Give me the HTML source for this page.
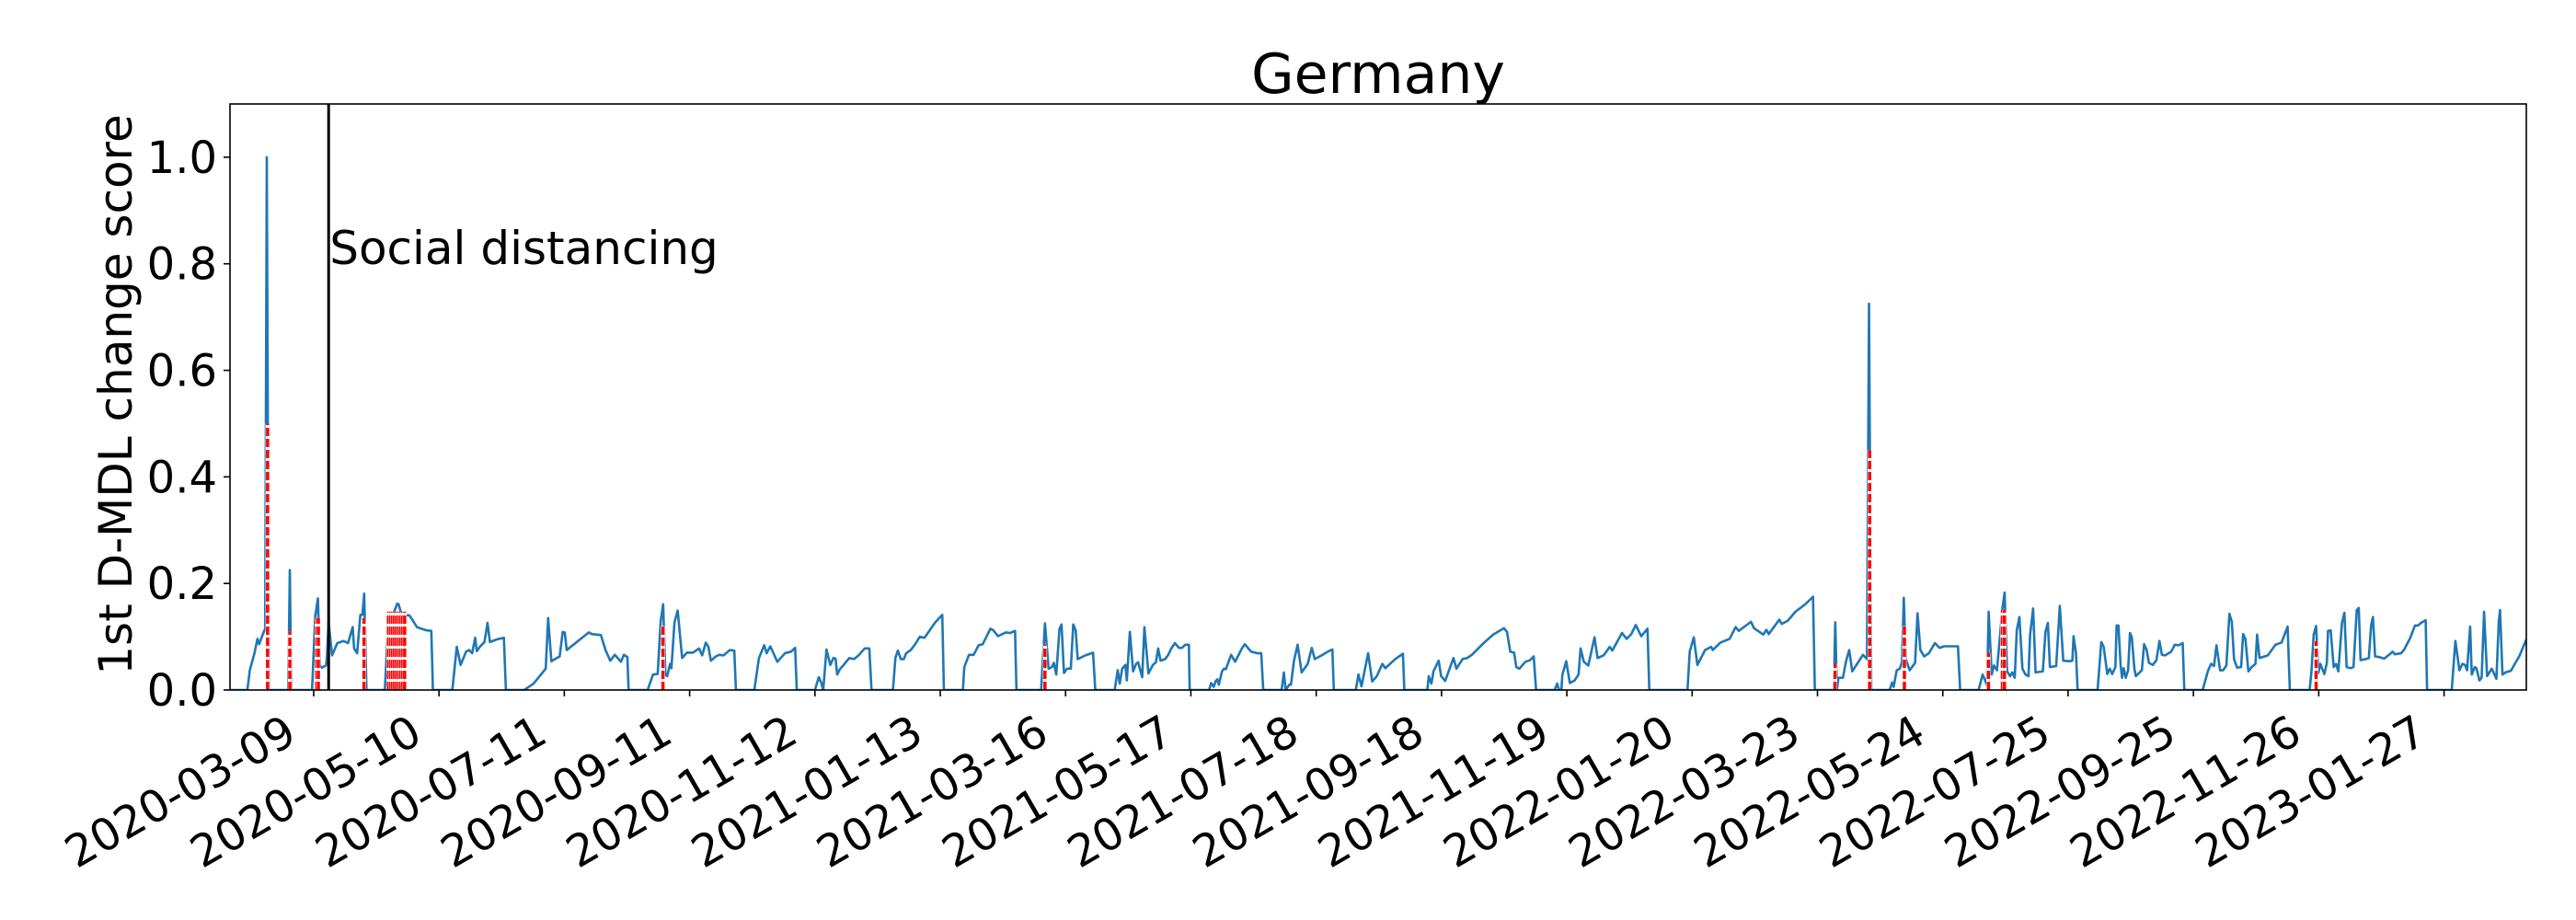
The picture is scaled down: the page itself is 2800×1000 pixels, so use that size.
<!DOCTYPE html>
<html>
<head>
<meta charset="utf-8">
<style>
  html, body { margin: 0; padding: 0; background: #fff; }
  svg { display: block; font-family: "DejaVu Sans", "Liberation Sans", sans-serif; }
</style>
</head>
<body>
<svg id="chart" width="2800" height="1000" viewBox="0 0 2800 1000" xmlns="http://www.w3.org/2000/svg">
  <rect x="0" y="0" width="2800" height="1000" fill="#fff"/>
  <text x="1498" y="101" font-size="60" text-anchor="middle" fill="#000">Germany</text>
  <text transform="translate(143,429) rotate(-90)" font-size="50" text-anchor="middle" fill="#000">1st D-MDL change score</text>
  <g id="plot"></g>
</svg>
<script>
// Days relative to 2020-03-09
const tickLabels = ["2020-03-09","2020-05-10","2020-07-11","2020-09-11","2020-11-12","2021-01-13","2021-03-16","2021-05-17","2021-07-18","2021-09-18","2021-11-19","2022-01-20","2022-03-23","2022-05-24","2022-07-25","2022-09-25","2022-11-26","2023-01-27"];
const tickDays = [0,62,124,186,248,310,372,434,496,558,620,682,744,806,868,930,992,1054];
const yTicks = [0.0,0.2,0.4,0.6,0.8,1.0];
const yTickLabels = ["0.0","0.2","0.4","0.6","0.8","1.0"];
const xDomain = [-41.4, 1094.7];
const yDomain = [0, 1.1];
const eventDay = 7.4;
const eventLabel = "Social distancing";
const changeDays = [-22.8,-11.8,1.5,2.3,24.9,37,38,39,40,41,42,43,44,45,172.8,361.8,752.7,769.8,787,828.6,835.5,836.5,990.7];
const changeHeights = [0.5,0.11,0.135,0.135,0.135,0.147,0.147,0.147,0.147,0.147,0.147,0.147,0.147,0.147,0.12,0.086,0.05,0.45,0.12,0.07,0.15,0.15,0.092];
const scoreDays = [-41.4,-32.8,-31.6,-29.3,-27.8,-27.0,-24.7,-24.0,-23.2,-22.2,-12.6,-11.8,-11.1,-0.8,0.75,2.1,3.0,4.1,6.1,6.5,7.4,9.1,11.7,14.7,17.0,19.3,20.0,21.5,23.1,24.1,25.0,26.1,35.2,36.7,37.8,39.0,41.3,42.0,43.5,47.3,48.8,51.1,55.7,58.2,59.0,68.6,70.8,72.7,75.4,76.9,78.4,79.9,80.7,82.2,84.5,86.0,87.2,90.6,94.1,95.1,104.2,108.8,114.8,116.0,117.6,121.7,123.2,124.2,125.2,136.1,137.6,142.1,144.4,146.7,149.0,152.0,153.5,155.2,155.8,165.2,167.9,170.2,171.7,172.9,174.0,174.9,176.3,177.0,178.5,180.1,182.3,184.6,187.6,190.7,192.2,194.0,195.3,196.5,199.0,200.6,202.8,205.9,208.1,208.9,218.0,220.3,222.9,224.1,225.9,229.4,233.2,236.2,238.2,239.0,248.0,249.9,251.1,252.1,253.7,255.6,257.1,258.2,259.0,260.5,262.0,265.0,267.3,269.6,272.6,274.9,276.0,286.6,287.8,289.0,290.5,292.0,293.1,295.4,297.6,299.9,302.2,307.5,311.0,311.8,321.2,321.9,324.2,326.5,329.0,331.0,334.8,336.3,338.6,342.4,344.7,347.0,347.7,359.9,361.8,363.6,365.2,366.2,367.4,369.0,370.0,371.2,372.7,374.6,375.8,377.0,378.0,381.8,385.6,386.7,396.3,397.8,398.8,400.0,401.6,402.3,403.8,405.4,406.9,407.9,409.9,411.0,413.0,415.2,416.7,417.8,419.0,421.3,422.8,424.3,426.1,428.1,429.6,431.2,433.0,433.4,443.0,444.0,445.3,446.3,447.1,447.8,449.4,450.4,451.3,453.9,455.9,459.2,460.7,462.2,463.8,466.8,468.8,469.8,478.9,480.0,480.9,482.7,483.5,485.0,486.8,488.8,491.8,493.8,495.3,498.7,501.7,504.0,504.7,515.6,516.9,518.4,521.7,523.7,526.0,528.7,530.2,535.1,538.9,539.6,551.0,551.7,553.0,554.0,556.6,557.8,559.8,563.9,565.4,568.4,570.7,573.0,579.1,583.6,586.6,588.9,590.4,592.0,593.9,595.0,596.5,599.5,601.8,603.6,604.8,614.0,615.2,616.2,617.3,617.8,619.7,621.5,623.8,625.8,626.8,628.4,630.6,633.7,635.2,638.2,641.2,642.5,647.3,649.6,651.9,654.1,656.8,659.9,660.8,679.7,680.8,682.8,684.6,688.4,691.4,692.2,696.0,700.5,703.5,705.1,711.1,712.6,717.2,718.7,719.9,725.1,726.3,729.3,733.1,737.7,741.8,742.7,752.1,752.8,753.6,754.4,756.6,758.2,759.7,761.2,766.5,768.5,769.5,770.6,779.7,780.9,781.7,783.2,784.7,785.8,786.7,787.7,789.6,792.3,793.5,794.9,796.8,799.1,802.1,804.4,806.7,813.5,814.6,823.7,825.7,827.9,828.7,830.2,831.3,832.8,835.5,836.6,837.8,839.3,840.4,841.6,842.6,843.9,845.4,846.9,848.4,849.2,850.7,851.9,855.5,856.8,858.0,859.0,862.1,863.9,865.6,868.9,870.1,870.7,871.9,872.7,882.6,884.4,885.6,887.4,888.6,889.8,891.4,892.0,892.9,894.0,894.7,895.5,896.5,897.7,898.6,899.5,900.8,901.5,904.5,905.6,906.8,908.0,909.9,911.7,913.2,914.4,916.0,919.0,920.8,922.8,924.7,925.5,934.6,937.2,938.7,940.2,941.4,943.2,944.7,946.3,947.8,949.0,950.1,951.6,953.6,954.6,955.7,957.2,958.8,960.7,961.5,962.7,966.8,970.6,973.6,976.6,977.7,987.5,988.4,989.5,990.7,991.8,992.8,993.6,994.8,996.0,996.6,997.9,999.4,1000.6,1001.7,1003.5,1004.7,1005.8,1007.7,1009.2,1010.8,1011.8,1012.7,1015.3,1016.8,1017.9,1018.8,1019.9,1021.8,1024.4,1027.4,1028.5,1029.7,1032.7,1034.3,1037.3,1039.6,1041.1,1042.6,1044.9,1045.6,1057.8,1059.6,1061.6,1063.1,1064.4,1065.4,1066.9,1067.7,1069.2,1070.0,1071.5,1072.6,1073.8,1075.3,1077.6,1078.6,1079.9,1081.1,1081.7,1082.9,1084.4,1087.1,1089.0,1091.2,1094.7];
const scoreValues = [0,0,0.037,0.069,0.096,0.086,0.109,0.115,1.0,0,0,0.225,0,0,0.138,0.172,0.046,0.042,0.046,0.058,0.127,0.065,0.088,0.092,0.088,0.118,0.078,0.069,0.141,0.141,0.181,0,0,0.109,0.141,0.138,0.162,0.161,0.141,0.140,0.132,0.118,0.112,0.111,0,0,0.081,0.047,0.072,0.075,0.069,0.098,0.073,0.081,0.090,0.126,0.090,0.095,0.098,0,0,0.012,0.040,0.135,0.054,0.063,0.109,0.108,0.075,0.108,0.105,0.103,0.075,0.055,0.066,0.053,0.066,0.062,0,0,0.029,0.030,0.130,0.161,0.029,0.026,0.049,0.041,0.127,0.149,0.060,0.070,0.070,0.078,0.065,0.089,0.081,0.055,0.063,0.066,0.065,0.075,0.074,0,0,0.060,0.084,0.069,0.082,0.053,0.069,0.072,0.079,0,0,0.024,0.014,0,0.076,0.047,0.060,0.059,0.029,0.040,0.046,0.060,0.058,0.065,0.078,0.078,0,0,0.060,0.074,0.058,0.058,0.069,0.075,0.086,0.100,0.098,0.127,0.141,0,0,0.043,0.066,0.066,0.084,0.086,0.115,0.112,0.101,0.108,0.107,0.111,0,0,0.125,0.040,0.043,0.051,0.029,0.115,0.123,0.032,0.040,0.040,0.123,0.112,0.058,0.065,0.070,0,0,0.037,0.012,0.040,0.047,0.018,0.109,0.035,0.049,0.052,0.024,0.118,0.031,0.047,0.052,0.078,0.055,0.058,0.066,0.078,0.088,0.079,0.079,0.085,0.085,0,0,0.013,0.006,0.017,0.020,0.010,0.035,0.040,0.039,0.066,0.053,0.078,0.086,0.079,0.072,0.069,0.069,0,0,0.033,0,0.010,0.010,0.055,0.085,0.033,0.049,0.079,0.058,0.065,0.072,0.076,0,0,0.029,0.007,0.069,0.016,0.026,0.049,0.041,0.058,0.068,0,0,0.026,0.012,0.035,0.055,0.026,0.017,0.060,0.040,0.058,0.060,0.066,0.089,0.104,0.111,0.116,0.109,0.072,0.070,0.043,0.040,0.053,0.056,0.063,0,0,0.012,0,0,0.029,0.054,0.013,0.018,0.029,0.078,0.053,0.046,0.099,0.060,0.065,0.081,0.074,0.107,0.096,0.105,0.122,0.101,0.115,0,0,0.072,0.099,0.047,0.075,0.081,0.075,0.089,0.096,0.118,0.111,0.128,0.116,0.104,0.113,0.105,0.132,0.124,0.130,0.147,0.160,0.175,0,0,0.127,0,0.023,0.023,0.055,0.075,0.035,0.066,0.058,0.725,0,0,0.014,0.006,0.037,0.040,0.052,0.173,0.058,0.037,0.051,0.144,0.075,0.063,0.069,0.088,0.079,0.082,0.082,0,0,0.029,0.009,0.147,0.029,0.046,0.037,0.153,0.183,0.035,0.026,0.033,0.023,0.112,0.137,0.040,0.029,0.026,0.104,0.153,0.033,0.035,0.109,0.126,0.043,0.045,0.158,0.055,0.054,0.055,0.101,0.069,0,0,0.090,0.081,0.030,0.040,0.030,0.043,0.121,0.121,0.046,0.023,0.041,0.023,0.037,0.107,0.099,0.040,0.026,0.037,0.086,0.076,0.051,0.047,0.056,0.092,0.066,0.065,0.072,0.085,0.084,0.088,0,0,0.036,0.049,0.045,0.084,0.037,0.037,0.046,0.143,0.128,0.058,0.042,0.043,0.105,0.096,0.035,0.043,0.049,0.104,0.060,0.065,0.085,0.089,0.119,0,0,0.035,0.104,0.120,0.032,0.049,0.041,0.030,0.051,0.111,0.112,0.043,0.049,0.035,0.126,0.145,0.043,0.041,0.043,0.150,0.154,0.056,0.058,0.060,0.121,0.137,0.063,0.062,0.059,0.068,0.072,0.067,0.069,0.076,0.098,0.121,0.121,0.126,0.131,0,0,0.092,0.037,0.049,0.047,0.037,0.119,0.029,0.043,0.041,0.018,0.023,0.147,0.026,0.040,0.032,0.021,0.130,0.150,0.029,0.033,0.036,0.049,0.063,0.095];

const NS = "http://www.w3.org/2000/svg";
const plot = document.getElementById('plot');
const AX = {left: 250, right: 2746, top: 113, bottom: 750};
function xScale(d) { return AX.left + (d - xDomain[0]) / (xDomain[1] - xDomain[0]) * (AX.right - AX.left); }
function yScale(v) { return AX.bottom - (v - yDomain[0]) / (yDomain[1] - yDomain[0]) * (AX.bottom - AX.top); }
function mk(tag, attrs) {
  const el = document.createElementNS(NS, tag);
  for (const k in attrs) el.setAttribute(k, attrs[k]);
  return el;
}

const defs = mk('defs', {});
const cp = mk('clipPath', {id: 'clip'});
cp.appendChild(mk('rect', {x: AX.left, y: AX.top, width: AX.right - AX.left, height: AX.bottom - AX.top}));
defs.appendChild(cp);
plot.appendChild(defs);

let d = '';
for (let i = 0; i < scoreDays.length; i++) {
  d += (i ? 'L' : 'M') + xScale(scoreDays[i]).toFixed(2) + ' ' + yScale(scoreValues[i]).toFixed(2);
}
const line = mk('path', {d: d, fill: 'none', stroke: '#1f77b4', 'stroke-width': 2.6, 'stroke-linejoin': 'round', 'clip-path': 'url(#clip)'});


plot.appendChild(line);

for (let i = 0; i < changeDays.length; i++) {
  const x = xScale(changeDays[i]);
  const g = mk('g', {});
  
  
  g.appendChild(mk('line', {x1: x, x2: x, y1: yScale(0), y2: yScale(changeHeights[i]), stroke: '#fff', 'stroke-width': 4.5}));
  g.appendChild(mk('line', {x1: x, x2: x, y1: yScale(0), y2: yScale(changeHeights[i]), stroke: '#ff0000', 'stroke-width': 3.5, 'stroke-dasharray': '9 3'}));
  plot.appendChild(g);
}

const ex = xScale(eventDay);
const ev = mk('line', {x1: ex, x2: ex, y1: AX.top, y2: AX.bottom, stroke: '#000', 'stroke-width': 3});


plot.appendChild(ev);
const evt = mk('text', {x: ex + 1, y: 287, 'font-size': 50, fill: '#000'});
evt.textContent = eventLabel;


plot.appendChild(evt);

const frame = mk('rect', {x: AX.left, y: AX.top, width: AX.right - AX.left, height: AX.bottom - AX.top, fill: 'none', stroke: '#000', 'stroke-width': 1.6});


plot.appendChild(frame);

for (let i = 0; i < yTicks.length; i++) {
  const y = yScale(yTicks[i]);
  plot.appendChild(mk('line', {x1: AX.left - 7, x2: AX.left, y1: y, y2: y, stroke: '#000', 'stroke-width': 1.6}));
  const t = mk('text', {x: AX.left - 14, y: y + 17, 'font-size': 48, 'text-anchor': 'end', fill: '#000'});
  t.textContent = yTickLabels[i];
  
  
  plot.appendChild(t);
}

for (let i = 0; i < tickDays.length; i++) {
  const x = xScale(tickDays[i]);
  plot.appendChild(mk('line', {x1: x, x2: x, y1: AX.bottom, y2: AX.bottom + 7, stroke: '#000', 'stroke-width': 1.6}));
  const ax = x - 16, ay = 805;
  const t = mk('text', {x: ax, y: ay, 'font-size': 48, 'text-anchor': 'end', fill: '#000', transform: 'rotate(-30 ' + ax + ' ' + ay + ')'});
  t.textContent = tickLabels[i];
  
  
  plot.appendChild(t);
}
</script>
</body>
</html>
